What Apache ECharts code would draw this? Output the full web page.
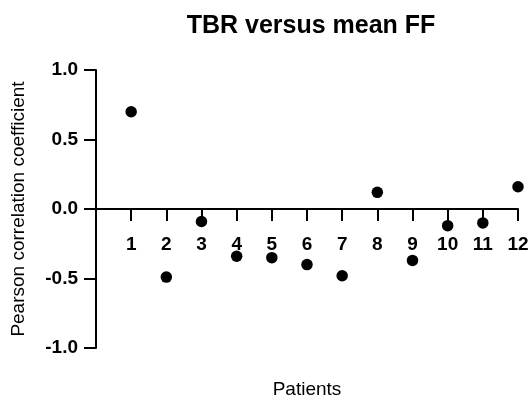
<!DOCTYPE html>
<html>
<head>
<meta charset="utf-8">
<script src="https://cdn.jsdelivr.net/npm/echarts@6/dist/echarts.min.js"></script>
<style>
html,body{margin:0;padding:0;background:#fff;}
#chart{width:532px;height:403px;}
</style>
</head>
<body>
<div id="chart"></div>
<script>
const patients = [1, 2, 3, 4, 5, 6, 7, 8, 9, 10, 11, 12];
const pearson = [0.70, -0.49, -0.09, -0.34, -0.35, -0.40, -0.48, 0.12, -0.37, -0.12, -0.10, 0.16];
const yTicks = [-1.0, -0.5, 0.0, 0.5, 1.0];

const FONT = '"Liberation Sans", Arial, Helvetica, sans-serif';
const GRID = {left: 96, right: 14, top: 70, bottom: 55};
const plotH = 403 - GRID.top - GRID.bottom;
// move the x axis up to where y = 0 lies
const zeroOffset = -plotH * (0 - yTicks[0]) / (yTicks[yTicks.length - 1] - yTicks[0]);

const chart = echarts.init(document.getElementById('chart'), null, {renderer: 'canvas'});
chart.setOption({
  animation: false,
  backgroundColor: '#ffffff',
  title: {
    text: 'TBR versus mean FF',
    left: 306, textAlign: 'center',
    top: 9,
    textStyle: {fontFamily: FONT, fontSize: 25, fontWeight: 'bold', color: '#000'}
  },
  grid: Object.assign({containLabel: false, outerBoundsMode: 'none'}, GRID),
  xAxis: {
    type: 'value', min: 0, max: 12, interval: 1,
    position: 'bottom', offset: zeroOffset,
    name: 'Patients', nameLocation: 'middle', nameGap: 171,
    nameTextStyle: {fontFamily: FONT, fontSize: 19, color: '#000'},
    axisLine: {onZero: false, lineStyle: {color: '#000', width: 2}},
    axisTick: {show: true, length: 12, lineStyle: {color: '#000', width: 2}},
    axisLabel: {
      fontFamily: FONT, fontSize: 19, fontWeight: 'bold', color: '#000', margin: 26,
      formatter: v => patients.includes(v) ? String(v) : ''
    },
    splitLine: {show: false}
  },
  yAxis: {
    type: 'value', min: yTicks[0], max: yTicks[yTicks.length - 1], interval: 0.5,
    name: 'Pearson correlation coefficient', nameLocation: 'middle', nameGap: 68,
    nameTextStyle: {fontFamily: FONT, fontSize: 19, color: '#000'},
    axisLine: {show: true, onZero: false, lineStyle: {color: '#000', width: 2}},
    axisTick: {show: true, length: 12, lineStyle: {color: '#000', width: 2}},
    axisLabel: {
      fontFamily: FONT, fontSize: 19, fontWeight: 'bold', color: '#000', margin: 18,
      formatter: v => v.toFixed(1)
    },
    splitLine: {show: false}
  },
  series: [{
    type: 'scatter',
    data: patients.map((p, i) => [p, pearson[i]]),
    symbol: 'circle',
    symbolSize: 11.5,
    itemStyle: {color: '#000', opacity: 1}
  }]
});
</script>
</body>
</html>
